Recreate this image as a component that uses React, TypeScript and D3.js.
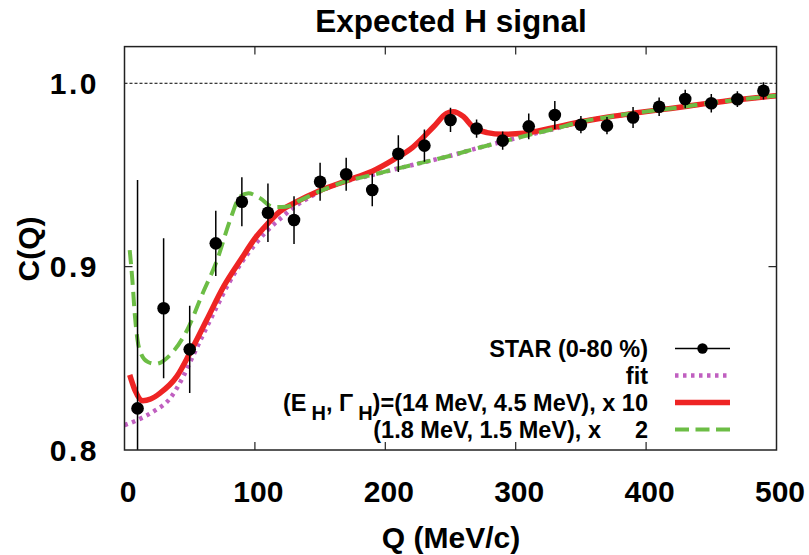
import React from 'react';
import * as d3 from 'd3';

// STAR (0-80 %) correlation data
const qData = [10, 30, 50, 70, 90, 110, 130, 150, 170, 190, 210, 230, 250, 270, 290, 310, 330, 350, 370, 390, 410, 430, 450, 470, 490];
const cData = [0.8227, 0.8773, 0.8549, 0.9127, 0.9354, 0.9294, 0.9254, 0.9463, 0.9504, 0.9418, 0.9616, 0.966, 0.98, 0.9753, 0.9687, 0.9765, 0.9827, 0.9774, 0.9769, 0.9813, 0.9872, 0.9914, 0.9891, 0.9913, 0.9959];
const cErr = [0.1246, 0.0382, 0.0238, 0.0178, 0.0134, 0.016, 0.013, 0.0103, 0.009, 0.0088, 0.01, 0.0088, 0.0066, 0.005, 0.005, 0.007, 0.0077, 0.0047, 0.0047, 0.0057, 0.005, 0.005, 0.005, 0.0043, 0.0047];

// fit (no H)
const fitQ = [0, 10, 22, 35, 45, 50, 60, 70, 80, 90, 100, 110, 120, 130, 140, 150, 170, 190, 210, 230, 250, 270, 290, 310, 330, 350, 370, 390, 410, 430, 450, 470, 490, 500];
const fitC = [0.8136, 0.8164, 0.8209, 0.8282, 0.84, 0.8475, 0.8625, 0.877, 0.891, 0.9025, 0.912, 0.92, 0.9265, 0.9325, 0.937, 0.941, 0.9466, 0.95, 0.9536, 0.957, 0.9605, 0.9645, 0.9682, 0.9718, 0.9752, 0.979, 0.9815, 0.9836, 0.9855, 0.9873, 0.9893, 0.991, 0.9925, 0.9932];

// (E_H, Gamma_H) = (14 MeV, 4.5 MeV), x 10
const hQ = [4, 8, 14, 20, 27, 40, 50, 63, 76, 89, 101, 110, 119, 132, 150, 170, 190, 206, 221, 237, 247, 252, 260, 267, 278, 290, 306, 326, 350, 370, 390, 410, 430, 450, 470, 490, 500];
const hC = [0.841, 0.8327, 0.8269, 0.8278, 0.8309, 0.84, 0.8527, 0.8709, 0.8891, 0.9036, 0.9163, 0.9236, 0.93, 0.9354, 0.9415, 0.9468, 0.952, 0.9582, 0.9651, 0.9763, 0.9836, 0.9845, 0.9818, 0.9763, 0.9731, 0.9722, 0.9727, 0.9754, 0.979, 0.9815, 0.9836, 0.9855, 0.9873, 0.9893, 0.991, 0.9925, 0.9932];

// (1.8 MeV, 1.5 MeV), x 2
const h2Q = [4, 6, 8, 10, 13, 18, 24, 35, 48, 60, 71, 81, 88.6, 95, 104, 114, 124, 135, 150, 170, 190, 210, 230, 250, 270, 290, 310, 330, 350, 370, 390, 410, 430, 450, 470, 490, 500];
const h2C = [0.909, 0.893, 0.873, 0.86, 0.852, 0.848, 0.847, 0.8518, 0.8654, 0.8855, 0.9036, 0.9254, 0.9382, 0.94, 0.9373, 0.9325, 0.9327, 0.9363, 0.9412, 0.9466, 0.95, 0.9536, 0.957, 0.9605, 0.9645, 0.9682, 0.9718, 0.9752, 0.979, 0.9815, 0.9836, 0.9855, 0.9873, 0.9893, 0.991, 0.9925, 0.9932];

const xTicks = [0, 100, 200, 300, 400, 500];
const yTicks = [0.8, 0.9, 1.0];

const FONT = '"Liberation Sans", Arial, Helvetica, sans-serif';
const RED = '#ee2424';
const GREEN = '#6cbd45';
const MAGENTA = '#c05fc0';

const App = () => {
  const left = 124.5, right = 776.5, top = 46.6, bottom = 450;
  const x = d3.scaleLinear().domain([0, 500]).range([left, right]);
  const y = d3.scaleLinear().domain([0.8, 1.02]).range([bottom, top]);

  const mkLine = (qs: number[], cs: number[]) =>
    d3.line<number>()
      .x((_, i) => x(qs[i]))
      .y(d => y(d))
      .curve(d3.curveMonotoneX)(cs) || '';

  const legendY = [348.5, 375.5, 402.5, 429.5];
  const legX1 = 675, legX2 = 730, legText = 648;

  return (
    <svg width={809} height={555} style={{ position: 'absolute', left: 0, top: 0, background: '#fff' }}
      fontFamily={FONT} fontWeight="bold">
      <defs>
        <clipPath id="plot-clip">
          <rect x={left} y={top} width={right - left} height={bottom - top} />
        </clipPath>
      </defs>

      {/* title */}
      <text x={451} y={32} textAnchor="middle" fontSize={31.5}>Expected H signal</text>

      {/* reference line at 1 */}
      <line x1={left} x2={right} y1={y(1.0)} y2={y(1.0)} stroke="#000" strokeWidth={1} strokeDasharray="3,2" />

      {/* ticks, inside on all sides */}
      {xTicks.slice(1, -1).map(t => (
        <g key={'xt' + t}>
          <line x1={x(t)} x2={x(t)} y1={bottom} y2={bottom - 8} stroke="#222" strokeWidth={1.2} />
          <line x1={x(t)} x2={x(t)} y1={top} y2={top + 8} stroke="#222" strokeWidth={1.2} />
        </g>
      ))}
      {yTicks.slice(1, -1).map(t => (
        <g key={'yt' + t}>
          <line x1={left} x2={left + 8} y1={y(t)} y2={y(t)} stroke="#222" strokeWidth={1.2} />
          <line x1={right} x2={right - 8} y1={y(t)} y2={y(t)} stroke="#222" strokeWidth={1.2} />
        </g>
      ))}

      {/* tick labels */}
      {xTicks.map(t => (
        <text key={'xl' + t} x={x(t) + 3.5} y={502} textAnchor="middle" fontSize={30}>{t}</text>
      ))}
      {yTicks.map(t => (
        <text key={'yl' + t} x={99} y={y(t) + 10.5} textAnchor="end" fontSize={30} letterSpacing={2.5}>{t.toFixed(1)}</text>
      ))}

      {/* axis titles */}
      <text x={451} y={548} textAnchor="middle" fontSize={30}>Q (MeV/c)</text>
      <text transform="translate(39,249) rotate(-90)" textAnchor="middle" fontSize={30}>C(Q)</text>

      <g clipPath="url(#plot-clip)">
        <path d={mkLine(fitQ, fitC)} fill="none" stroke={MAGENTA} strokeWidth={4.5} strokeDasharray="3.5,4.5" />
        <path d={mkLine(hQ, hC)} fill="none" stroke={RED} strokeWidth={5.5} />
        <path d={mkLine(h2Q, h2C)} fill="none" stroke={GREEN} strokeWidth={4} strokeDasharray="14,7" />

        {qData.map((q, i) => (
          <g key={'p' + q}>
            <line x1={x(q)} x2={x(q)} y1={y(cData[i] - cErr[i])} y2={y(cData[i] + cErr[i])} stroke="#000" strokeWidth={1.5} />
            <circle cx={x(q)} cy={y(cData[i])} r={6.3} fill="#000" />
          </g>
        ))}
      </g>

      {/* frame */}
      <rect x={left} y={top} width={right - left} height={bottom - top} fill="none" stroke="#222" strokeWidth={1.5} />

      {/* legend */}
      <g fontSize={23.5}>
        <text x={legText} y={legendY[0] + 8.5} textAnchor="end">STAR (0-80 %)</text>
        <line x1={legX1} x2={legX2} y1={legendY[0]} y2={legendY[0]} stroke="#000" strokeWidth={1.5} />
        <circle cx={(legX1 + legX2) / 2} cy={legendY[0]} r={5.2} fill="#000" />

        <text x={legText} y={legendY[1] + 8.5} textAnchor="end">fit</text>
        <line x1={legX1} x2={legX2} y1={legendY[1]} y2={legendY[1]} stroke={MAGENTA} strokeWidth={4.5} strokeDasharray="3.5,4.5" />

        <text x={legText} y={legendY[2] + 8.5} textAnchor="end">
          <tspan>(E</tspan>
          <tspan dx={5} dy={9} fontSize={20}>H</tspan>
          <tspan dy={-9}>, Γ</tspan>
          <tspan dx={5} dy={9} fontSize={20}>H</tspan>
          <tspan dy={-9}>)=(14 MeV, 4.5 MeV), x 10</tspan>
        </text>
        <line x1={legX1} x2={legX2} y1={legendY[2]} y2={legendY[2]} stroke={RED} strokeWidth={5.5} />

        <text x={601} y={legendY[3] + 8.5} textAnchor="end">(1.8 MeV, 1.5 MeV), x</text>
        <text x={legText} y={legendY[3] + 8.5} textAnchor="end">2</text>
        <line x1={legX1} x2={legX2} y1={legendY[3]} y2={legendY[3]} stroke={GREEN} strokeWidth={4} strokeDasharray="14,6.5" />
      </g>
    </svg>
  );
};

export default App;
